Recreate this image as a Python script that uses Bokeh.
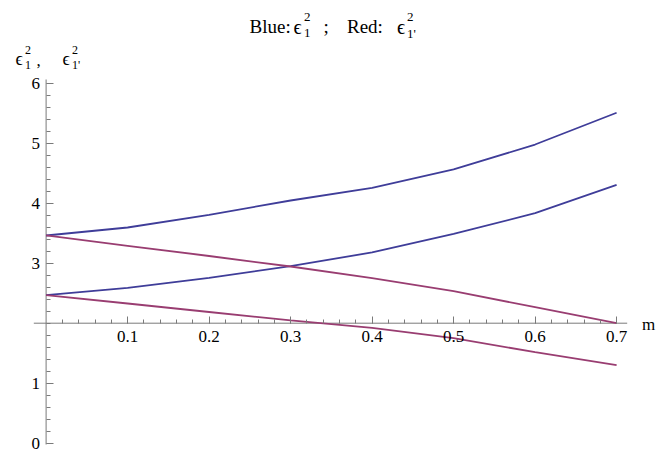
from bokeh.plotting import figure
from bokeh.models import LinearAxis, FixedTicker, Range1d, Label
from bokeh.embed import file_html
from bokeh.resources import INLINE

# ---------------- data ----------------
m = [0.0, 0.1, 0.2, 0.3, 0.4, 0.5, 0.6, 0.7]
blue_upper = [3.462, 3.595, 3.807, 4.045, 4.257, 4.562, 4.978, 5.507]
blue_lower = [2.467, 2.590, 2.757, 2.950, 3.180, 3.490, 3.833, 4.307]
red_upper = [3.462, 3.290, 3.120, 2.945, 2.750, 2.533, 2.267, 2.000]
red_lower = [2.467, 2.328, 2.187, 2.047, 1.923, 1.750, 1.517, 1.300]

x_ticks = [0.1, 0.2, 0.3, 0.4, 0.5, 0.6, 0.7]
x_minor = [round(0.02 * i, 2) for i in range(1, 36)]
y_ticks = [0, 1, 3, 4, 5, 6]
y_minor = [round(0.2 * i, 1) for i in range(0, 31)]

# ---------------- styles ----------------
BLUE = "#3f3d99"
RED = "#993d71"
AXIS = "#7a7a7a"
SERIF = "Liberation Serif"

W, H = 664, 456
X0_PX, XS = 45.6, 815.0       # px of m=0, px per unit
Y2_PX, YS = 322.7, 60.0       # px of y=2, px per unit
AX_L, AX_R = 33.3, 626.7      # extent of the horizontal axis line (px)
AX_T, AX_B = 79.0, 444.0      # extent of the vertical axis line (px)


def dx(px):
    return (px - X0_PX) / XS


def dy(py):
    return 2 + (Y2_PX - py) / YS


p = figure(width=W, height=H,
           x_range=Range1d(dx(0), dx(W)),
           y_range=Range1d(dy(H), dy(0)),
           x_axis_location=None, y_axis_location=None,
           toolbar_location=None, output_backend="svg",
           min_border=0)
p.outline_line_color = None
p.title.visible = False
p.xgrid.visible = False
p.ygrid.visible = False
p.background_fill_color = "white"
p.border_fill_color = "white"

# axes crossing at (0, 2)
xaxis = LinearAxis(fixed_location=2,
                   ticker=FixedTicker(ticks=x_ticks, minor_ticks=x_minor))
yaxis = LinearAxis(fixed_location=0,
                   ticker=FixedTicker(ticks=y_ticks, minor_ticks=y_minor))
for ax in (xaxis, yaxis):
    ax.axis_line_color = None
    ax.major_tick_line_color = AXIS
    ax.minor_tick_line_color = AXIS
    ax.major_tick_in = 7
    ax.major_tick_out = 0
    ax.minor_tick_in = 4
    ax.minor_tick_out = 0
    ax.major_label_text_font = SERIF
    ax.major_label_text_font_size = "17px"
    ax.major_label_text_color = "black"
xaxis.major_label_standoff = 8
yaxis.major_label_standoff = 6
p.add_layout(xaxis, "below")
p.add_layout(yaxis, "left")

# axis lines (limited extent, as in the reference)
p.line([dx(AX_L), dx(AX_R)], [2, 2], line_color=AXIS, line_width=1)
p.line([0, 0], [dy(AX_B), dy(AX_T)], line_color=AXIS, line_width=1)

# curves
p.line(m, blue_upper, line_color=BLUE, line_width=1.8)
p.line(m, blue_lower, line_color=BLUE, line_width=1.8)
p.line(m, red_upper, line_color=RED, line_width=1.8)
p.line(m, red_lower, line_color=RED, line_width=1.8)


def txt(px, py, s, size, baseline="alphabetic", align="left"):
    p.add_layout(Label(x=dx(px), y=dy(py), text=s, text_font=SERIF,
                       text_font_size=size, text_color="black",
                       text_baseline=baseline, text_align=align))


# axis label "m"
txt(641.5, Y2_PX + 1.5, "m", "17px", baseline="middle")

# title: Blue: eps_1^2 ;   Red: eps_1'^2
txt(249, 26, "Blue:", "19px")
txt(293, 26, "ϵ", "20px")
txt(303.5, 16, "2", "13px")
txt(303.5, 32.5, "1", "13px")
txt(323, 26, ";", "19px")
txt(346.5, 26, "Red:", "19px")
txt(396.5, 26, "ϵ", "20px")
txt(406.5, 16, "2", "13px")
txt(406.5, 32.5, "1'", "13px")

# y label: eps_1^2 ,   eps_1'^2
txt(15, 58, "ϵ", "18px")
txt(24.5, 49, "2", "12px")
txt(24.5, 64, "1", "12px")
txt(36, 60, ",", "17px")
txt(62, 58, "ϵ", "18px")
txt(71.5, 49, "2", "12px")
txt(71.5, 64, "1'", "12px")

open("out.html", "w").write(file_html(p, INLINE))
